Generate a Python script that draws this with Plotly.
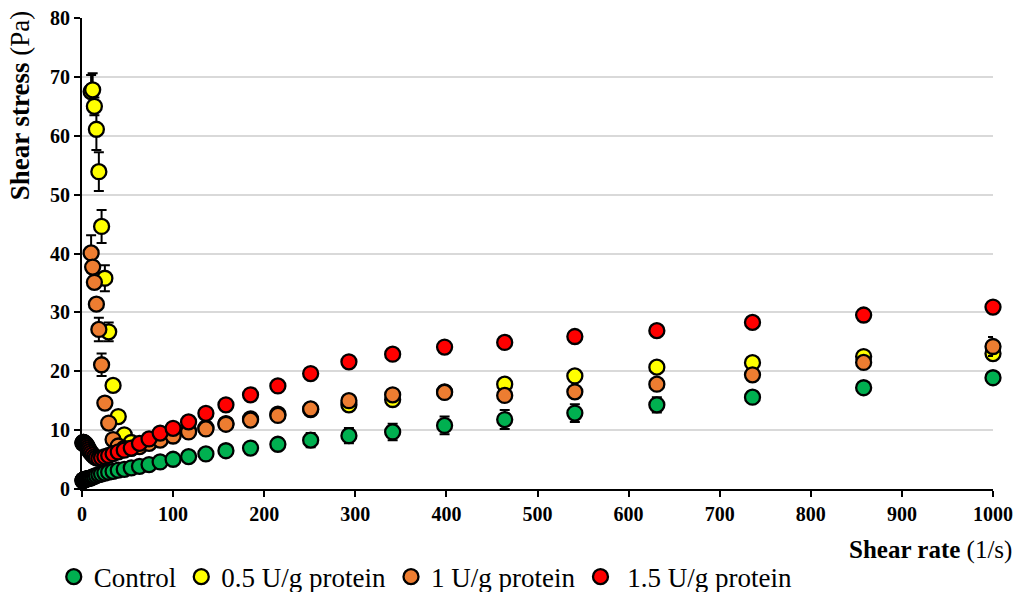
import plotly.graph_objects as go

# Shear rate (1/s)
shear_rate = [1.0, 1.17, 1.36, 1.58, 1.85, 2.15, 2.51, 2.93, 3.41, 3.98, 4.64, 5.41, 6.31, 7.36, 8.58,
              10.0, 11.7, 13.6, 15.8, 18.5, 21.5, 25.1, 29.3, 34.1, 39.8, 46.4, 54.1, 63.1, 73.6, 85.8,
              100, 117, 136, 158, 185, 215, 251, 293, 341, 398, 464, 541, 631, 736, 858, 1000]
shear_rate_hi = shear_rate[15:]

# Shear stress (Pa)
control = [1.4, 1.45, 1.5, 1.5, 1.55, 1.55, 1.6, 1.6, 1.65, 1.65, 1.7, 1.7, 1.75, 1.8, 1.85,
           1.9, 2.05, 2.15, 2.3, 2.45, 2.55, 2.7, 2.85, 3.0, 3.2, 3.35, 3.6, 3.85, 4.15, 4.6,
           5.05, 5.5, 5.95, 6.5, 6.95, 7.6, 8.3, 9.05, 9.7, 10.8, 11.8, 12.9, 14.3, 15.6, 17.2, 18.9]
control_err = [0.2] * 34 + [0.8, 1.0, 1.2, 1.3, 1.4, 1.5, 1.6, 1.5, 1.3, 1.0, 0.9, 0.8]

u05 = [67.5, 67.8, 65.0, 61.1, 53.9, 44.6, 35.8, 26.7, 17.6, 12.3, 9.2, 7.9, 7.6, 8.0, 8.5,
       9.2, 9.9, 10.4, 11.1, 11.9, 12.7, 13.5, 14.3, 15.2, 16.5, 17.8, 19.2, 20.7, 21.45, 22.5, 23.0]
u05_err = [2.8, 2.8, 1.5, 3.5, 3.3, 2.8, 2.2, 1.6, 0.8] + [0.5] * 22

u1 = [40.1, 37.7, 35.1, 31.4, 27.1, 21.1, 14.6, 11.2, 8.4, 7.3, 6.9, 6.9, 7.2, 7.75, 8.3,
      9.0, 9.7, 10.2, 11.0, 11.7, 12.5, 13.6, 15.0, 16.0, 16.4, 15.9, 16.5, 17.8, 19.4, 21.5, 24.2]
u1_err = [3.0, 1.0, 1.0, 1.0, 2.0, 1.9, 1.0] + [0.5] * 23 + [1.6]

u15 = [7.8, 7.8, 7.9, 7.9, 7.9, 7.8, 7.8, 7.7, 7.7, 7.6, 7.5, 7.3, 7.0, 6.7, 6.4,
       6.1, 5.8, 5.5, 5.3, 5.2, 5.3, 5.5, 5.7, 6.0, 6.3, 6.6, 6.95, 7.75, 8.5, 9.5,
       10.3, 11.4, 12.85, 14.3, 16.0, 17.5, 19.6, 21.6, 22.9, 24.1, 24.9, 25.9, 26.9, 28.3, 29.55, 30.9]
u15_err = [0.3] * 46

names = ["Control", "0.5 U/g protein", "1 U/g protein", " 1.5 U/g protein"]
colors = ["#00B050", "#FFFF00", "#ED7D31", "#FF0000"]

FONT = "Liberation Serif"
fig = go.Figure()
series = [(shear_rate, control, control_err), (shear_rate_hi, u05, u05_err),
          (shear_rate_hi, u1, u1_err), (shear_rate, u15, u15_err)]
for (xs, ys, es), nm, col in zip(series, names, colors):
    fig.add_trace(go.Scatter(
        x=xs, y=ys, mode="markers", name=nm, cliponaxis=False,
        marker=dict(size=15, color=col, line=dict(color="black", width=2.3)),
        error_y=dict(type="data", array=es, visible=True, color="black", thickness=2, width=5),
    ))

fig.update_layout(
    width=1022, height=592,
    margin=dict(l=82, r=29, t=18, b=103, autoexpand=False),
    plot_bgcolor="white", paper_bgcolor="white",
    font=dict(family=FONT, color="black"),
    showlegend=True,
    legend=dict(orientation="h", x=-0.031, y=-0.187, yanchor="middle", xanchor="left",
                font=dict(family=FONT, size=27, color="black"), itemwidth=30,
                bgcolor="rgba(0,0,0,0)"),
    xaxis=dict(range=[0, 1000], dtick=100, tick0=0, showgrid=False, zeroline=False,
               showline=True, linecolor="black", linewidth=2,
               ticks="outside", ticklen=6, tickwidth=2, tickcolor="black",
               tickfont=dict(family=FONT, size=20, color="black", weight="bold")),
    yaxis=dict(range=[0, 80], dtick=10, tick0=0, showgrid=True, gridcolor="#D9D9D9", gridwidth=1.5,
               zeroline=False, showline=True, linecolor="black", linewidth=2,
               ticks="outside", ticklen=6, tickwidth=2, tickcolor="black",
               tickfont=dict(family=FONT, size=20, color="black", weight="bold")),
    annotations=[
        dict(text="<b>Shear rate</b> (1/s)", xref="paper", yref="paper", x=1.0235, y=-0.1295,
             xanchor="right", yanchor="middle", showarrow=False,
             font=dict(family=FONT, size=25, color="black")),
        dict(text="<b>Shear stress</b> (Pa)", xref="paper", yref="paper", x=-0.068, y=0.815,
             xanchor="center", yanchor="middle", textangle=-90, showarrow=False,
             font=dict(family=FONT, size=27, color="black")),
    ],
)

fig.write_html("out.html")
